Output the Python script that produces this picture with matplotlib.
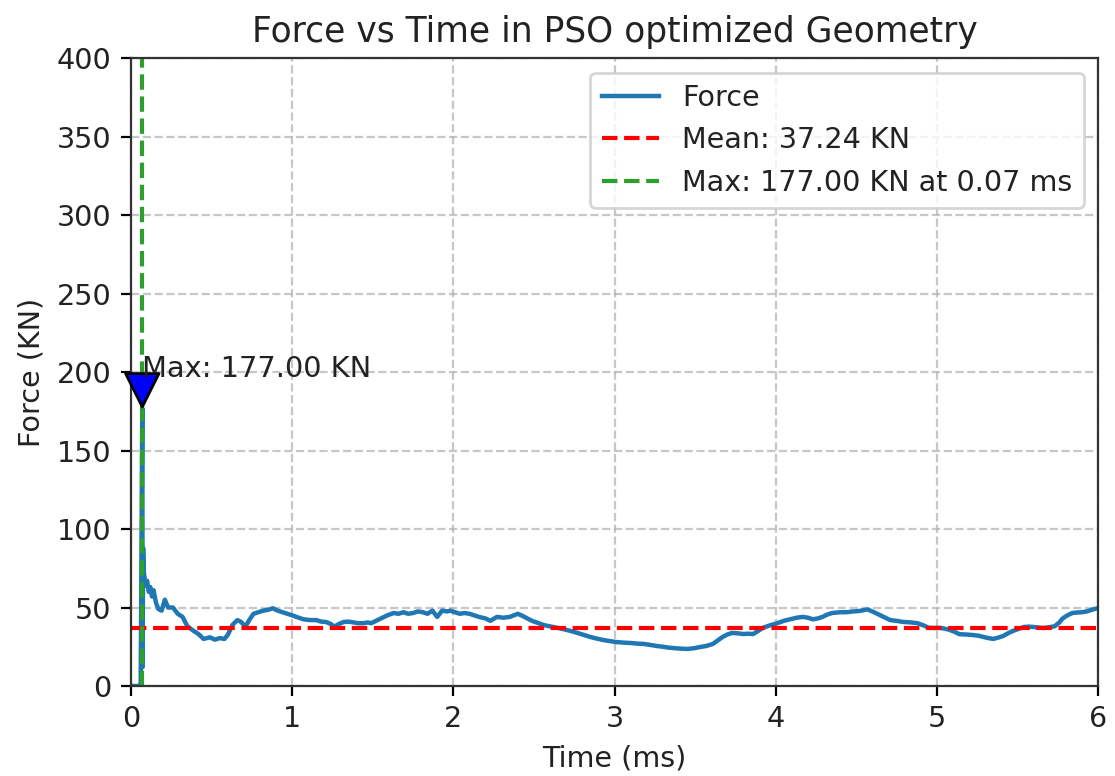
import matplotlib
matplotlib.use("Agg")
import matplotlib.pyplot as plt

# Sampled force history (time in ms, force in kN)
time_ms = [0.0, 0.05, 0.06, 0.065, 0.07, 0.072, 0.075, 0.08, 0.09, 0.10, 0.11, 0.12, 0.13,
           0.14, 0.155, 0.17, 0.19, 0.21, 0.23, 0.26, 0.29, 0.32, 0.35, 0.39, 0.42, 0.45,
           0.49, 0.52, 0.55, 0.58, 0.60, 0.63, 0.66, 0.68, 0.71, 0.74, 0.76, 0.79, 0.82,
           0.85, 0.88, 0.91, 0.94, 0.97, 1.00, 1.04, 1.07, 1.11, 1.15, 1.18, 1.21, 1.24,
           1.26, 1.29, 1.32, 1.35, 1.38, 1.41, 1.44, 1.47, 1.49, 1.52, 1.55, 1.59, 1.63,
           1.66, 1.69, 1.72, 1.75, 1.78, 1.81, 1.84, 1.87, 1.90, 1.93, 1.96, 1.98, 2.01,
           2.04, 2.07, 2.10, 2.13, 2.16, 2.20, 2.23, 2.27, 2.31, 2.35, 2.40, 2.43, 2.46,
           2.49, 2.53, 2.56, 2.62, 2.68, 2.73, 2.77, 2.81, 2.85, 2.89, 2.93, 2.97, 3.01,
           3.06, 3.10, 3.14, 3.18, 3.22, 3.26, 3.30, 3.34, 3.38, 3.42, 3.45, 3.49, 3.53,
           3.57, 3.61, 3.64, 3.67, 3.70, 3.73, 3.77, 3.80, 3.83, 3.86, 3.89, 3.92, 3.96,
           4.01, 4.05, 4.09, 4.13, 4.17, 4.20, 4.23, 4.26, 4.29, 4.32, 4.35, 4.40, 4.44,
           4.48, 4.52, 4.57, 4.61, 4.65, 4.68, 4.71, 4.75, 4.79, 4.84, 4.88, 4.92, 4.95,
           4.99, 5.02, 5.05, 5.08, 5.11, 5.14, 5.18, 5.22, 5.26, 5.29, 5.32, 5.35, 5.38,
           5.41, 5.44, 5.47, 5.51, 5.54, 5.57, 5.60, 5.63, 5.66, 5.70, 5.73, 5.76, 5.78,
           5.81, 5.84, 5.87, 5.90, 5.93, 5.96, 6.00]

force_kn = [0.0, 0.0, 0.5, 95.0, 177.0, 12.0, 88.0, 72.0, 64.0, 67.0, 60.0, 63.0, 57.0,
            61.0, 53.0, 49.0, 48.0, 55.0, 50.0, 50.0, 46.0, 44.0, 38.0, 35.0, 33.0, 30.0,
            31.0, 29.5, 30.5, 30.0, 32.5, 39.0, 42.0, 41.0, 38.0, 43.0, 46.0, 47.0, 48.0,
            48.5, 49.5, 48.0, 47.0, 46.0, 45.0, 43.5, 42.5, 42.0, 42.0, 41.0, 40.8, 39.5,
            37.8, 39.5, 40.8, 41.0, 40.5, 40.0, 40.0, 40.5, 40.0, 41.5, 43.0, 45.0, 46.5,
            46.0, 47.0, 46.0, 46.5, 47.5, 47.0, 46.0, 48.0, 44.0, 48.0, 47.5, 48.0, 47.0,
            46.0, 46.5, 46.0, 45.0, 44.0, 43.0, 41.5, 44.0, 43.5, 44.0, 46.0, 44.6, 43.0,
            41.4, 40.0, 38.8, 37.6, 36.3, 35.0, 33.8, 32.5, 31.2, 30.2, 29.3, 28.6, 28.0,
            27.6, 27.4, 27.0, 26.8, 26.2, 25.5, 25.0, 24.4, 24.0, 23.8, 23.6, 24.0, 24.8,
            25.5, 26.8, 29.0, 31.2, 32.8, 33.8, 33.5, 33.1, 33.3, 33.1, 35.0, 37.0, 38.5,
            40.0, 41.5, 42.5, 43.5, 44.0, 43.5, 42.5, 43.0, 44.0, 45.5, 46.5, 47.0, 47.0,
            47.5, 47.8, 48.8, 47.0, 45.0, 43.5, 42.0, 41.5, 40.8, 40.5, 40.0, 38.5, 37.0,
            37.0, 37.0, 36.5, 35.7, 34.5, 33.0, 32.8, 32.5, 32.0, 31.2, 30.5, 30.0, 30.8,
            31.8, 33.5, 35.0, 36.5, 37.6, 37.8, 37.6, 37.2, 37.0, 37.5, 38.0, 40.5, 43.0,
            45.0, 46.5, 46.8, 47.0, 47.5, 48.5, 49.7]

# Summary values shown in the legend
mean_force = 37.24
max_force = 177.00
max_time = 0.07

x_ticks = [0, 1, 2, 3, 4, 5, 6]
y_ticks = [0, 50, 100, 150, 200, 250, 300, 350, 400]

fig = plt.figure(figsize=(5.575, 3.88), dpi=200)
ax = fig.add_axes([0.1175, 0.116, 0.8673, 0.809])

ax.plot(time_ms, force_kn, color="#1f77b4", linewidth=1.6, label="Force")
ax.axhline(mean_force, color="red", linestyle="--", linewidth=1.5,
           label=f"Mean: {mean_force:.2f} KN")
ax.axvline(max_time, color="#2ca02c", linestyle="--", linewidth=1.5,
           label=f"Max: {max_force:.2f} KN at {max_time:.2f} ms")

ax.annotate(f"Max: {max_force:.2f} KN", xy=(max_time, max_force),
            xytext=(max_time, max_force + 20),
            arrowprops=dict(facecolor="blue", shrink=0.05),
            fontsize=10.4, color="#222222")

ax.set_xlim(0, 6)
ax.set_ylim(0, 400)
ax.set_xticks(x_ticks)
ax.set_yticks(y_ticks)
ax.tick_params(labelsize=10.3, labelcolor="#222222")
ax.set_title("Force vs Time in PSO optimized Geometry", fontsize=12.45, color="#222222")
ax.set_xlabel("Time (ms)", fontsize=10.3, color="#222222")
ax.set_ylabel("Force (KN)", fontsize=10.3, color="#222222")
ax.grid(True, linestyle="--", alpha=0.7)
for spine in ax.spines.values():
    spine.set_color("#333333")
leg = ax.legend(loc="upper right", fontsize=10.3)
for txt in leg.get_texts():
    txt.set_color("#222222")

fig.savefig("out.png", dpi=200)
